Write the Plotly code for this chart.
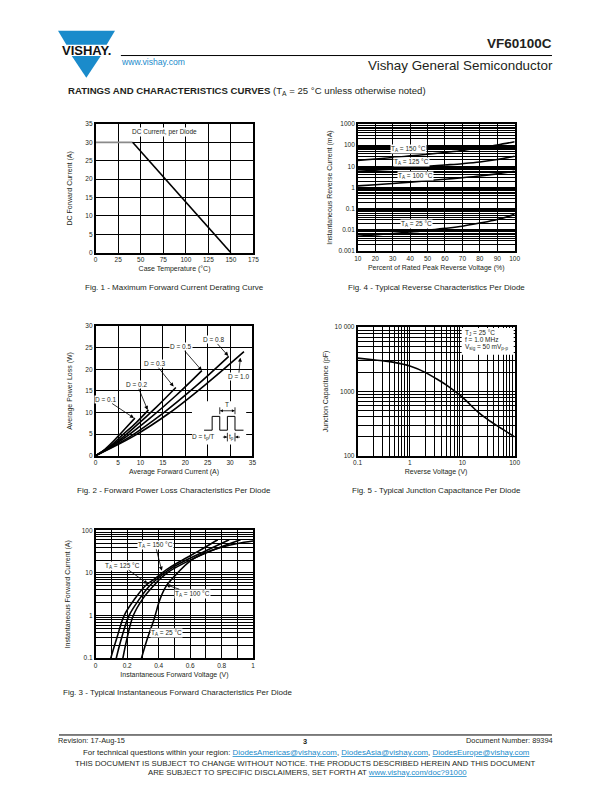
import plotly.graph_objects as go

# ---------------- DATA ----------------
# Fig. 1 - derating
derate_temp = [0, 41, 150]
derate_current = [30, 30, 0]

# Fig. 2 - forward power loss (I avg, P avg) per duty cycle
d_labels = ["D = 0.1", "D = 0.2", "D = 0.3", "D = 0.5", "D = 0.8", "D = 1.0"]
d01_i = [0, 2, 4, 6, 8.76]
d01_p = [0, 1.4, 3.4, 5.6, 8.7]
d02_i = [0, 3, 6, 9, 11.8]
d02_p = [0, 2.0, 4.8, 7.6, 10.6]
d03_i = [0, 4.5, 9, 13.5, 17.9]
d03_p = [0, 3.0, 6.9, 11.2, 15.8]
d05_i = [0, 6, 12, 18, 23.7]
d05_p = [0, 3.8, 8.6, 14.0, 19.7]
d08_i = [0, 7.5, 15, 22.5, 29.7]
d08_p = [0, 4.3, 9.8, 16.2, 23.0]
d10_i = [0, 8.3, 16.6, 24.9, 33.1]
d10_p = [0, 4.4, 10.0, 16.8, 24.1]

# Fig. 4 - reverse current (mA) vs percent of rated VR
rev_pct = [10, 20, 30, 40, 50, 60, 70, 80, 90, 100]
ir_150 = [19, 22, 26, 31, 37, 45, 56, 76, 102, 144]
ir_125 = [5.8, 6.5, 7.4, 8.6, 10, 11.5, 13.3, 16, 21, 30]
ir_100 = [1.2, 1.35, 1.55, 1.8, 2.1, 2.45, 2.9, 3.5, 4.4, 5.8]
ir_25 = [0.005, 0.0058, 0.0068, 0.008, 0.0095, 0.0118, 0.015, 0.021, 0.031, 0.054]

# Fig. 5 - junction capacitance
cj_v = [0.1, 0.2, 0.3, 0.5, 1, 2, 3, 5, 10, 20, 30, 50, 100]
cj_pf = [3290, 3100, 3000, 2830, 2480, 1960, 1620, 1250, 812, 477, 370, 280, 196]

# Fig. 3 - forward characteristics
vf_150 = [0.096, 0.135, 0.181, 0.25, 0.316, 0.38, 0.45, 0.55, 0.65, 0.775]
if_150 = [0.1, 0.3, 1, 2.5, 5, 7.5, 12, 20, 32, 60]
vf_125 = [0.131, 0.165, 0.212, 0.28, 0.343, 0.39, 0.46, 0.57, 0.7, 0.848]
if_125 = [0.1, 0.3, 1, 2.5, 5, 7.2, 11.5, 19.5, 33, 60]
vf_100 = [0.173, 0.2, 0.239, 0.3, 0.368, 0.405, 0.47, 0.6, 0.75, 0.92]
if_100 = [0.1, 0.3, 1, 2.5, 5, 7, 11, 20, 35, 60]
vf_25 = [0.291, 0.33, 0.37, 0.41, 0.451, 0.52, 0.6, 0.7, 0.8, 0.9, 1.0]
if_25 = [0.1, 0.3, 0.8, 2.5, 5.1, 10, 19, 30, 40, 49, 56]

# ---------------- STYLE ----------------
W, H = 612, 792
FONT = "Liberation Sans, Arial, sans-serif"
TXT = "#231f20"
BLUE = "#1a8bcb"


def px(x):
    return x / W


def py(y):
    return 1 - y / H


def log_minor(lo, hi):
    return [m * 10 ** e for e in range(lo, hi) for m in range(2, 10)]


fig = go.Figure()
LW = 1.6

# Fig 1
fig.add_trace(go.Scatter(x=derate_temp[:2], y=derate_current[:2], mode="lines",
                         line=dict(color="#8a8a8a", width=LW), xaxis="x", yaxis="y"))
fig.add_trace(go.Scatter(x=derate_temp[1:], y=derate_current[1:], mode="lines",
                         line=dict(color="black", width=LW), xaxis="x", yaxis="y"))

# Fig 4
for arr in (ir_150, ir_125, ir_100, ir_25):
    fig.add_trace(go.Scatter(x=rev_pct, y=arr, mode="lines", line=dict(color="black", width=LW, shape="spline"),
                             xaxis="x2", yaxis="y2"))

# Fig 2
for xi, yp in ((d01_i, d01_p), (d02_i, d02_p), (d03_i, d03_p), (d05_i, d05_p), (d08_i, d08_p), (d10_i, d10_p)):
    fig.add_trace(go.Scatter(x=xi, y=yp, mode="lines", line=dict(color="black", width=LW, shape="spline"),
                             xaxis="x3", yaxis="y3"))

# Fig 5
fig.add_trace(go.Scatter(x=cj_v, y=cj_pf, mode="lines", line=dict(color="black", width=LW, shape="spline"),
                         xaxis="x4", yaxis="y4"))

# Fig 3
for xv, yi in ((vf_150, if_150), (vf_125, if_125), (vf_100, if_100), (vf_25, if_25)):
    fig.add_trace(go.Scatter(x=xv, y=yi, mode="lines", line=dict(color="black", width=LW, shape="spline"),
                             xaxis="x5", yaxis="y5"))

tickfont = dict(family=FONT, size=6.5, color=TXT)
titlefont = dict(family=FONT, size=7, color=TXT)


def ax(domain, anchor, title, standoff=4, **kw):
    d = dict(domain=domain, anchor=anchor, showline=True, mirror=True, linecolor="black", linewidth=1.5,
             showgrid=True, gridcolor="black", gridwidth=1, zeroline=False, ticks="", tickfont=tickfont,
             title=dict(text=title, font=titlefont, standoff=standoff), fixedrange=True)
    d.update(kw)
    return d


lay = dict(
    width=W, height=H, margin=dict(l=0, r=0, t=0, b=0), paper_bgcolor="white", plot_bgcolor="white",
    showlegend=False, font=dict(family=FONT, color=TXT),
)
# Fig 1 axes
lay["xaxis"] = ax([px(92.3), px(253)], "y", "Case Temperature (°C)", range=[0, 175],
                  tickvals=[0, 25, 50, 75, 100, 125, 150, 175])
lay["yaxis"] = ax([py(251), py(121)], "x", "DC Forward Current (A)", standoff=12, range=[0, 35],
                  tickvals=[0, 5, 10, 15, 20, 25, 30, 35])
# Fig 4 axes
lay["xaxis2"] = ax([px(359.3), px(519)], "y2", "Percent of Rated Peak Reverse Voltage (%)", range=[10, 100],
                   tickvals=rev_pct)
lay["yaxis2"] = ax([py(249.3), py(121)], "x2", "Instantaneous Reverse Current (mA)", standoff=5,
                   type="log", range=[-3, 3],
                   tickvals=[0.001, 0.01, 0.1, 1, 10, 100, 1000],
                   ticktext=["0.001", "0.01", "0.1", "1", "10", "100", "1000"],
                   minor=dict(tickmode="array", tickvals=log_minor(-3, 3), showgrid=True,
                              gridcolor="black", gridwidth=1, ticks=""))
# Fig 2 axes
lay["xaxis3"] = ax([px(92.3), px(252)], "y3", "Average Forward Current (A)", range=[0, 35],
                   tickvals=[0, 5, 10, 15, 20, 25, 30, 35])
lay["yaxis3"] = ax([py(455.7), py(325)], "x3", "Average Power Loss (W)", standoff=12, range=[0, 30],
                   tickvals=[0, 5, 10, 15, 20, 25, 30])
# Fig 5 axes
lay["xaxis4"] = ax([px(359), px(519)], "y4", "Reverse Voltage (V)", type="log", range=[-1, 2],
                   tickvals=[0.1, 1, 10, 100], ticktext=["0.1", "1", "10", "100"],
                   minor=dict(tickmode="array", tickvals=log_minor(-1, 2), showgrid=True,
                              gridcolor="black", gridwidth=1, ticks=""))
lay["yaxis4"] = ax([py(455.7), py(326)], "x4", "Junction Capacitance (pF)", standoff=5, type="log", range=[2, 4],
                   tickvals=[100, 1000, 10000], ticktext=["100", "1000", "10 000"],
                   minor=dict(tickmode="array", tickvals=log_minor(2, 4), showgrid=True,
                              gridcolor="black", gridwidth=1, ticks=""))
# Fig 3 axes
lay["xaxis5"] = ax([px(92.3), px(252.7)], "y5", "Instantaneous Forward Voltage (V)", range=[0, 1],
                   tickvals=[0, 0.2, 0.4, 0.6, 0.8, 1], ticktext=["0", "0.2", "0.4", "0.6", "0.8", "1"],
                   minor=dict(tickmode="array", tickvals=[0.1, 0.3, 0.5, 0.7, 0.9], showgrid=True,
                              gridcolor="black", gridwidth=1, ticks=""))
lay["yaxis5"] = ax([py(660), py(531)], "x5", "Instantaneous Forward Current (A)", standoff=10,
                   type="log", range=[-1, 2],
                   tickvals=[0.1, 1, 10, 100], ticktext=["0.1", "1", "10", "100"],
                   minor=dict(tickmode="array", tickvals=log_minor(-1, 2), showgrid=True,
                              gridcolor="black", gridwidth=1, ticks=""))
fig.update_layout(**lay)

ann = []
shapes = []


def txt(x, y, s, size=7, xanchor="center", yanchor="middle", color=TXT, bold=False, xref="paper", yref="paper",
        bg=None, head=None):
    a = dict(x=x, y=y, xref=xref, yref=yref, text=(f"<b>{s}</b>" if bold else s), showarrow=False,
             font=dict(family=FONT, size=size, color=color), xanchor=xanchor, yanchor=yanchor)
    if bg:
        a.update(bgcolor=bg, borderpad=0)
    if head is not None:
        # label sits at (x, y); arrow points to head
        a.update(x=head[0], y=head[1], ax=x, ay=y, axref=xref, ayref=yref, showarrow=True,
                 arrowhead=2, arrowsize=1, arrowwidth=0.8, arrowcolor="black", standoff=0,
                 xanchor="center", yanchor="middle")
    ann.append(a)


def line(x0, y0, x1, y1, xref, yref, w=0.8):
    shapes.append(dict(type="line", xref=xref, yref=yref, x0=x0, y0=y0, x1=x1, y1=y1, layer="above",
                       line=dict(color="black", width=w)))


def head(tipx, tipy, dirx, xref, yref, ln=0.6, hw=0.35):
    bx = tipx - dirx * ln
    shapes.append(dict(type="path", xref=xref, yref=yref, layer="above",
                       path=f"M {tipx},{tipy} L {bx},{tipy + hw} L {bx},{tipy - hw} Z",
                       fillcolor="black", line=dict(width=0)))


# Header
shapes.append(dict(type="path", xref="paper", yref="paper",
                   path=f"M {px(54)},{py(27)} L {px(112)},{py(27)} L {px(103.5)},{py(41)} L {px(62.5)},{py(41)} Z",
                   fillcolor=BLUE, line=dict(width=0)))
shapes.append(dict(type="path", xref="paper", yref="paper",
                   path=f"M {px(68)},{py(52.5)} L {px(97.5)},{py(52.5)} L {px(82.8)},{py(74.5)} Z",
                   fillcolor=BLUE, line=dict(width=0)))
txt(px(82.5), py(47), "VISHAY.", size=13, bold=True, color="#111")
shapes.append(dict(type="line", xref="paper", yref="paper", x0=px(118), x1=px(557), y0=py(52), y1=py(52),
                   line=dict(color="black", width=1)))
txt(px(559), py(40), "VF60100C", size=13.5, bold=True, xanchor="right")
txt(px(116), py(59), "www.vishay.com", size=8.6, xanchor="left", color=BLUE)
txt(px(560), py(62), "Vishay General Semiconductor", size=13.4, xanchor="right")
txt(px(62), py(88), "<b>RATINGS AND CHARACTERISTICS CURVES</b> (T<sub>A</sub> = 25 °C unless otherwise noted)",
    size=9.6, xanchor="left")

# Captions
txt(px(172.5), py(286), "Fig. 1 - Maximum Forward Current Derating Curve", size=8)
txt(px(439), py(286), "Fig. 4 - Typical Reverse Characteristics Per Diode", size=8)
txt(px(172.5), py(491), "Fig. 2 - Forward Power Loss Characteristics Per Diode", size=8)
txt(px(439), py(491), "Fig. 5 - Typical Junction Capacitance Per Diode", size=8)
txt(px(176), py(695), "Fig. 3 - Typical Instantaneous Forward Characteristics Per Diode", size=8)

# Fig 1 label
txt(76, 32.8, "DC Current, per Diode", size=6.5, xref="x", yref="y", bg="white")

# Fig 4 labels
txt(39.1, 1.80, "T<sub>A</sub> = 150 °C", size=6.5, xref="x2", yref="y2", bg="white")
txt(41.0, 1.21, "T<sub>A</sub> = 125 °C", size=6.5, xref="x2", yref="y2", bg="white")
txt(43.3, 0.555, "T<sub>A</sub> = 100 °C", size=6.5, xref="x2", yref="y2", bg="white")
txt(43.6, -1.735, "T<sub>A</sub> = 25 °C", size=6.5, xref="x2", yref="y2", bg="white")

# Fig 2 labels with arrows
fig2_lab = [(2.34, 13.0), (9.27, 16.4), (13.3, 21.3), (19.1, 25.2), (26.4, 26.8), (31.9, 18.3)]
fig2_head = [(8.54, 8.72), (11.6, 10.6), (17.4, 16.0), (23.7, 19.7), (29.6, 23.1), (32.3, 22.7)]
for lab, (lx, ly), hd in zip(d_labels, fig2_lab, fig2_head):
    txt(lx, ly, lab, size=6.5, xref="x3", yref="y3", bg="white", head=hd)

# Fig 2 inset (duty cycle waveform)
shapes.append(dict(type="rect", xref="x3", yref="y3", x0=21.5, x1=33.6, y0=2.6, y1=12.6,
                   fillcolor="white", line=dict(width=0), layer="above"))
shapes.append(dict(type="path", xref="x3", yref="y3", layer="above",
                   path="M 24.2,5.9 L 26.0,5.9 L 26.0,9.1 L 27.7,9.1 L 27.7,5.9 L 29.4,5.9 L 29.4,9.1 "
                        "L 31.1,9.1 L 31.1,5.9 L 33.0,5.9",
                   line=dict(color="black", width=1)))
for xx in (27.7, 31.1):
    line(xx, 9.6, xx, 11.2, "x3", "y3")
for xx in (29.4, 31.1):
    line(xx, 3.3, xx, 5.3, "x3", "y3")
line(27.8, 10.4, 31.0, 10.4, "x3", "y3")
head(27.8, 10.4, -1, "x3", "y3")
head(31.0, 10.4, 1, "x3", "y3")
line(28.4, 4.3, 29.3, 4.3, "x3", "y3")
head(29.3, 4.3, 1, "x3", "y3")
line(32.2, 4.3, 31.2, 4.3, "x3", "y3")
head(31.2, 4.3, -1, "x3", "y3")
txt(29.4, 11.9, "T", size=6.5, xref="x3", yref="y3")
txt(24.0, 4.3, "D = t<sub>p</sub>/T", size=6.5, xref="x3", yref="y3")
txt(30.25, 4.3, "t<sub>p</sub>", size=6.5, xref="x3", yref="y3")

# Fig 5 conditions box
shapes.append(dict(type="rect", xref="paper", yref="paper", x0=px(465), x1=px(518), y0=py(354), y1=py(327),
                   fillcolor="white", line=dict(width=0), layer="above"))
txt(px(466.5), py(331.5), "T<sub>J</sub> = 25 °C", size=6.5, xanchor="left")
txt(px(466.5), py(338.5), "f = 1.0 MHz", size=6.5, xanchor="left")
txt(px(466.5), py(346.5), "V<sub>sig</sub> = 50 mV<sub>p-p</sub>", size=6.5, xanchor="left")

# Fig 3 labels with arrows
txt(0.378, 1.659, "T<sub>A</sub> = 150 °C", size=6.5, xref="x5", yref="y5", bg="white", head=(0.42, 1.054))
txt(0.17, 1.171, "T<sub>A</sub> = 125 °C", size=6.5, xref="x5", yref="y5", bg="white", head=(0.331, 0.744))
txt(0.617, 0.512, "T<sub>A</sub> = 100 °C", size=6.5, xref="x5", yref="y5", bg="white", head=(0.447, 0.721))
txt(0.447, -0.419, "T<sub>A</sub> = 25 °C", size=6.5, xref="x5", yref="y5", bg="white")

# Footer
shapes.append(dict(type="line", xref="paper", yref="paper", x0=px(55), x1=px(557), y0=py(737.5), y1=py(737.5),
                   line=dict(color="black", width=1)))
txt(px(52), py(743.5), "Revision: 17-Aug-15", size=7.4, xanchor="left")
txt(px(305), py(744), "3", size=7.4, bold=True)
txt(px(560), py(743.5), "Document Number: 89394", size=7.4, xanchor="right")
txt(px(307), py(755.5),
    "For technical questions within your region: "
    f"<span style='color:{BLUE}'><u>DiodesAmericas@vishay.com</u></span>, "
    f"<span style='color:{BLUE}'><u>DiodesAsia@vishay.com</u></span>, "
    f"<span style='color:{BLUE}'><u>DiodesEurope@vishay.com</u></span>", size=7.9)
txt(px(306), py(766.5),
    "THIS DOCUMENT IS SUBJECT TO CHANGE WITHOUT NOTICE. THE PRODUCTS DESCRIBED HEREIN AND THIS DOCUMENT", size=7.8)
txt(px(308), py(775.5),
    f"ARE SUBJECT TO SPECIFIC DISCLAIMERS, SET FORTH AT <span style='color:{BLUE}'><u>www.vishay.com/doc?91000</u></span>",
    size=7.8)

fig.update_layout(annotations=ann, shapes=shapes)
fig.write_html("out.html")
